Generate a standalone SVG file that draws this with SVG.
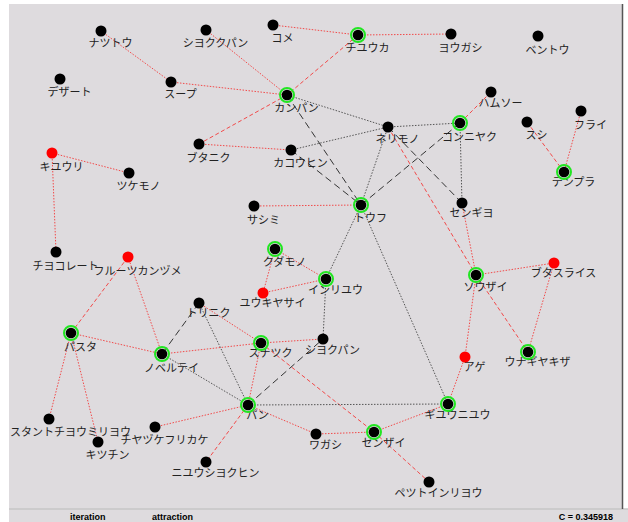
<svg xmlns="http://www.w3.org/2000/svg" width="628" height="522" viewBox="0 0 628 522">
<style>
.bg{fill:#dedbde}
.e{fill:none;stroke-width:1}
.er{stroke:#f24a4a;stroke-dasharray:1.5 1.5}
.ed{stroke:#f24a4a;stroke-dasharray:4 2.5}
.gd{stroke:#555;stroke-dasharray:1.5 1.5}
.bd{stroke:#333;stroke-dasharray:7 4}
.d{fill:#000}
.rd{fill:#ff0000}
.ring{fill:none;stroke:#22e622;stroke-width:2}
.t{font-family:"Noto Sans CJK JP","Noto Sans",sans-serif;font-size:11px;fill:#222;text-anchor:middle}
.s{font-family:"Liberation Sans",Arial,sans-serif;font-size:9px;font-weight:bold;fill:#000}
</style>
<rect x="0" y="0" width="628" height="522" fill="#ffffff"/>
<rect class="bg" x="9" y="4" width="613" height="505"/>
<rect class="bg" x="9" y="509" width="619" height="13"/>
<line x1="9" y1="509" x2="628" y2="509" stroke="#c6c6c6" stroke-width="1.5"/>
<line x1="622.5" y1="4" x2="622.5" y2="509" stroke="#555" stroke-width="1.5"/>
<text class="s" x="70" y="520">iteration</text>
<text class="s" x="152" y="520">attraction</text>
<text class="s" x="613" y="520" text-anchor="end">C = 0.345918</text>
<g id="edges">
<line class="e er" x1="101" y1="31" x2="171" y2="82"/>
<line class="e er" x1="206" y1="30" x2="287" y2="95"/>
<line class="e er" x1="171" y1="82" x2="287" y2="95"/>
<line class="e er" x1="273" y1="25" x2="358" y2="35"/>
<line class="e er" x1="358" y1="35" x2="451" y2="34"/>
<line class="e ed" x1="358" y1="35" x2="287" y2="95"/>
<line class="e ed" x1="287" y1="95" x2="199" y2="144"/>
<line class="e er" x1="199" y1="144" x2="291" y2="150"/>
<line class="e er" x1="52" y1="153" x2="129" y2="173"/>
<line class="e er" x1="52" y1="153" x2="56" y2="252"/>
<line class="e ed" x1="491" y1="92" x2="460" y2="123"/>
<line class="e ed" x1="527" y1="122" x2="564" y2="172"/>
<line class="e er" x1="581" y1="111" x2="564" y2="172"/>
<line class="e ed" x1="388" y1="127" x2="476" y2="275"/>
<line class="e er" x1="462" y1="203" x2="476" y2="275"/>
<line class="e er" x1="254" y1="206" x2="361" y2="205"/>
<line class="e er" x1="476" y1="275" x2="554" y2="263"/>
<line class="e ed" x1="476" y1="275" x2="528" y2="352"/>
<line class="e er" x1="554" y1="263" x2="528" y2="352"/>
<line class="e er" x1="476" y1="275" x2="465" y2="357"/>
<line class="e er" x1="465" y1="357" x2="448" y2="404"/>
<line class="e ed" x1="128" y1="257" x2="71" y2="333"/>
<line class="e er" x1="128" y1="257" x2="162" y2="354"/>
<line class="e er" x1="71" y1="333" x2="162" y2="354"/>
<line class="e er" x1="71" y1="333" x2="49" y2="419"/>
<line class="e er" x1="71" y1="333" x2="98" y2="442"/>
<line class="e er" x1="275" y1="249" x2="326" y2="279"/>
<line class="e er" x1="275" y1="249" x2="263" y2="293"/>
<line class="e er" x1="263" y1="293" x2="326" y2="279"/>
<line class="e er" x1="162" y1="354" x2="261" y2="343"/>
<line class="e er" x1="199" y1="303" x2="261" y2="343"/>
<line class="e er" x1="261" y1="343" x2="323" y2="339"/>
<line class="e er" x1="261" y1="343" x2="248" y2="405"/>
<line class="e ed" x1="261" y1="343" x2="374" y2="432"/>
<line class="e er" x1="155" y1="427" x2="248" y2="405"/>
<line class="e ed" x1="248" y1="405" x2="206" y2="462"/>
<line class="e er" x1="248" y1="405" x2="316" y2="434"/>
<line class="e er" x1="316" y1="434" x2="374" y2="432"/>
<line class="e er" x1="374" y1="432" x2="448" y2="404"/>
<line class="e ed" x1="374" y1="432" x2="429" y2="482"/>
<line class="e gd" x1="287" y1="95" x2="388" y2="127"/>
<line class="e gd" x1="291" y1="150" x2="388" y2="127"/>
<line class="e gd" x1="388" y1="127" x2="460" y2="123"/>
<line class="e gd" x1="388" y1="127" x2="361" y2="205"/>
<line class="e gd" x1="460" y1="123" x2="462" y2="203"/>
<line class="e gd" x1="361" y1="205" x2="326" y2="279"/>
<line class="e gd" x1="326" y1="279" x2="323" y2="339"/>
<line class="e gd" x1="361" y1="205" x2="448" y2="404"/>
<line class="e gd" x1="248" y1="405" x2="448" y2="404"/>
<line class="e gd" x1="199" y1="303" x2="248" y2="405"/>
<line class="e gd" x1="162" y1="354" x2="248" y2="405"/>
<line class="e bd" x1="287" y1="95" x2="361" y2="205"/>
<line class="e bd" x1="291" y1="150" x2="361" y2="205"/>
<line class="e bd" x1="388" y1="127" x2="462" y2="203"/>
<line class="e bd" x1="460" y1="123" x2="361" y2="205"/>
<line class="e bd" x1="199" y1="303" x2="162" y2="354"/>
<line class="e bd" x1="248" y1="405" x2="323" y2="339"/>
</g>
<g id="n01"><text class="t" x="110.5" y="47">ナツトウ</text><circle class="d" cx="101" cy="31" r="5.5"/></g>
<g id="n02"><text class="t" x="215.5" y="47">シヨククパン</text><circle class="d" cx="206" cy="30" r="5.5"/></g>
<g id="n03"><text class="t" x="282.5" y="42">コメ</text><circle class="d" cx="273" cy="25" r="5.5"/></g>
<g id="n04"><text class="t" x="367.5" y="52">チユウカ</text><circle class="ring" cx="358" cy="35" r="7"/><circle class="d" cx="358" cy="35" r="5.3"/></g>
<g id="n05"><text class="t" x="460.5" y="52">ヨウガシ</text><circle class="d" cx="451" cy="34" r="5.5"/></g>
<g id="n06"><text class="t" x="547.5" y="54">ベントウ</text><circle class="d" cx="538" cy="36" r="5.5"/></g>
<g id="n07"><text class="t" x="69.5" y="96">デザート</text><circle class="d" cx="60" cy="79" r="5.5"/></g>
<g id="n08"><text class="t" x="180.5" y="98">スープ</text><circle class="d" cx="171" cy="82" r="5.5"/></g>
<g id="n09"><text class="t" x="296.5" y="112">カンパン</text><circle class="ring" cx="287" cy="95" r="7"/><circle class="d" cx="287" cy="95" r="5.3"/></g>
<g id="n10"><text class="t" x="500.5" y="107">ハムソー</text><circle class="d" cx="491" cy="92" r="5.5"/></g>
<g id="n11"><text class="t" x="397.5" y="143">ネリモノ</text><circle class="d" cx="388" cy="127" r="5.5"/></g>
<g id="n12"><text class="t" x="469.5" y="141">コンニヤク</text><circle class="ring" cx="460" cy="123" r="7"/><circle class="d" cx="460" cy="123" r="5.3"/></g>
<g id="n13"><text class="t" x="536.5" y="139">スシ</text><circle class="d" cx="527" cy="122" r="5.5"/></g>
<g id="n14"><text class="t" x="590.5" y="129">フライ</text><circle class="d" cx="581" cy="111" r="5.5"/></g>
<g id="n15"><text class="t" x="208.5" y="162">ブタニク</text><circle class="d" cx="199" cy="144" r="5.5"/></g>
<g id="n16"><text class="t" x="300.5" y="167">カコウヒン</text><circle class="d" cx="291" cy="150" r="5.5"/></g>
<g id="n17"><text class="t" x="61.5" y="171">キユウリ</text><circle class="rd" cx="52" cy="153" r="5.5"/></g>
<g id="n18"><text class="t" x="138.5" y="190">ツケモノ</text><circle class="d" cx="129" cy="173" r="5.5"/></g>
<g id="n19"><text class="t" x="573.5" y="186">テンプラ</text><circle class="ring" cx="564" cy="172" r="7"/><circle class="d" cx="564" cy="172" r="5.3"/></g>
<g id="n20"><text class="t" x="471.5" y="217">センギヨ</text><circle class="d" cx="462" cy="203" r="5.5"/></g>
<g id="n21"><text class="t" x="370.5" y="222">トウフ</text><circle class="ring" cx="361" cy="205" r="7"/><circle class="d" cx="361" cy="205" r="5.3"/></g>
<g id="n22"><text class="t" x="263.5" y="224">サシミ</text><circle class="d" cx="254" cy="206" r="5.5"/></g>
<g id="n23"><text class="t" x="284.5" y="266">クダモノ</text><circle class="ring" cx="275" cy="249" r="7"/><circle class="d" cx="275" cy="249" r="5.3"/></g>
<g id="n24"><text class="t" x="65.5" y="270">チヨコレート</text><circle class="d" cx="56" cy="252" r="5.5"/></g>
<g id="n25"><text class="t" x="137.5" y="275">フルーツカンヅメ</text><circle class="rd" cx="128" cy="257" r="5.5"/></g>
<g id="n26"><text class="t" x="563.5" y="277">ブタスライス</text><circle class="rd" cx="554" cy="263" r="5.5"/></g>
<g id="n27"><text class="t" x="485.5" y="291">ソウザイ</text><circle class="ring" cx="476" cy="275" r="7"/><circle class="d" cx="476" cy="275" r="5.3"/></g>
<g id="n28"><text class="t" x="335.5" y="294">インリユウ</text><circle class="ring" cx="326" cy="279" r="7"/><circle class="d" cx="326" cy="279" r="5.3"/></g>
<g id="n29"><text class="t" x="272.5" y="307">ユウキヤサイ</text><circle class="rd" cx="263" cy="293" r="5.5"/></g>
<g id="n30"><text class="t" x="208.5" y="317">トリニク</text><circle class="d" cx="199" cy="303" r="5.5"/></g>
<g id="n31"><text class="t" x="80.5" y="351">パスタ</text><circle class="ring" cx="71" cy="333" r="7"/><circle class="d" cx="71" cy="333" r="5.3"/></g>
<g id="n32"><text class="t" x="332.5" y="354">シヨクパン</text><circle class="d" cx="323" cy="339" r="5.5"/></g>
<g id="n33"><text class="t" x="270.5" y="357">スナツク</text><circle class="ring" cx="261" cy="343" r="7"/><circle class="d" cx="261" cy="343" r="5.3"/></g>
<g id="n34"><text class="t" x="171.5" y="372">ノベルテイ</text><circle class="ring" cx="162" cy="354" r="7"/><circle class="d" cx="162" cy="354" r="5.3"/></g>
<g id="n35"><text class="t" x="537.5" y="366">ウナギヤキザ</text><circle class="ring" cx="528" cy="352" r="7"/><circle class="d" cx="528" cy="352" r="5.3"/></g>
<g id="n36"><text class="t" x="474.5" y="371">アゲ</text><circle class="rd" cx="465" cy="357" r="5.5"/></g>
<g id="n37"><text class="t" x="457.5" y="419">ギユウニユウ</text><circle class="ring" cx="448" cy="404" r="7"/><circle class="d" cx="448" cy="404" r="5.3"/></g>
<g id="n38"><text class="t" x="257.5" y="419">パン</text><circle class="ring" cx="248" cy="405" r="7"/><circle class="d" cx="248" cy="405" r="5.3"/></g>
<g id="n39"><text class="t" x="10" y="436" style="text-anchor:start">スタントチヨウミリヨウ</text><circle class="d" cx="49" cy="419" r="5.5"/></g>
<g id="n40"><text class="t" x="164.5" y="444">チヤヅケフリカケ</text><circle class="d" cx="155" cy="427" r="5.5"/></g>
<g id="n41"><text class="t" x="325.5" y="449">ワガシ</text><circle class="d" cx="316" cy="434" r="5.5"/></g>
<g id="n42"><text class="t" x="383.5" y="447">センザイ</text><circle class="ring" cx="374" cy="432" r="7"/><circle class="d" cx="374" cy="432" r="5.3"/></g>
<g id="n43"><text class="t" x="107.5" y="459">キツチン</text><circle class="d" cx="98" cy="442" r="5.5"/></g>
<g id="n44"><text class="t" x="215.5" y="477">ニユウシヨクヒン</text><circle class="d" cx="206" cy="462" r="5.5"/></g>
<g id="n45"><text class="t" x="438.5" y="497">ペツトインリヨウ</text><circle class="d" cx="429" cy="482" r="5.5"/></g>
</svg>
